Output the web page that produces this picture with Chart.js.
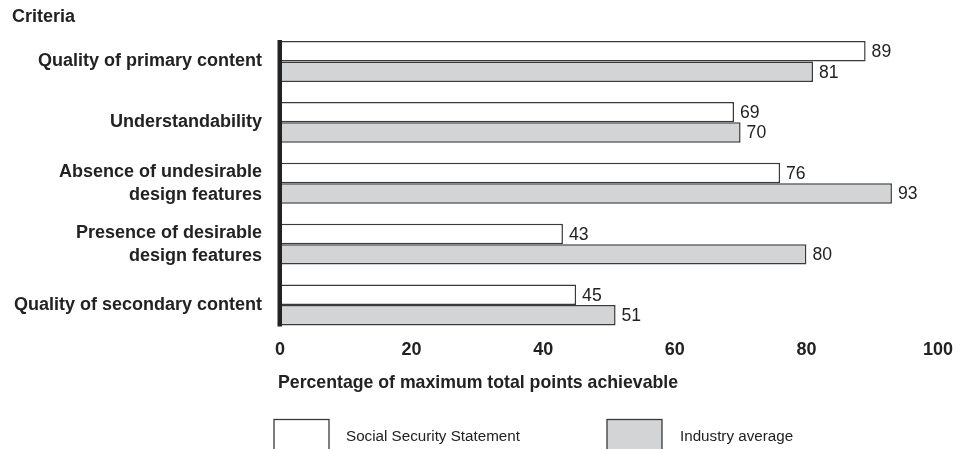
<!DOCTYPE html>
<html>
<head>
<meta charset="utf-8">
<script src="https://cdn.jsdelivr.net/npm/chart.js@4/dist/chart.umd.min.js"></script>
<style>
html,body{margin:0;padding:0;background:#fff;}
#wrap{width:966px;height:449px;position:relative;}
</style>
</head>
<body>
<div id="wrap"><canvas id="c" width="966" height="449"></canvas></div>
<script>
const categories = [
  "Quality of primary content",
  ["Understandability"],
  ["Absence of undesirable", "design features"],
  ["Presence of desirable", "design features"],
  "Quality of secondary content"
];
const seriesNames = ["Social Security Statement", "Industry average"];
const socialSecurity = [89, 69, 76, 43, 45];
const industryAverage = [81, 70, 93, 80, 51];
const xTicks = [0, 20, 40, 60, 80, 100];
const yAxisTitle = "Criteria";
const xAxisTitle = "Percentage of maximum total points achievable";

const FONT = "'Liberation Sans', Arial, Helvetica, sans-serif";
const INK = "#222";
const GREY = "#d3d4d6";
const EDGE = "#3a3a3a";

const extras = {
  id: 'extras',
  afterDatasetsDraw(chart) {
    const ctx = chart.ctx;
    const area = chart.chartArea;
    ctx.save();
    ctx.fillStyle = INK;
    ctx.font = "17.6px " + FONT;
    ctx.textAlign = "left";
    ctx.textBaseline = "middle";
    chart.data.datasets.forEach((ds, di) => {
      const meta = chart.getDatasetMeta(di);
      meta.data.forEach((bar, i) => {
        ctx.fillText(String(ds.data[i]), bar.x + 6, bar.y + 1);
      });
    });
    const first = chart.getDatasetMeta(0).data[0];
    const lastMeta = chart.getDatasetMeta(chart.data.datasets.length - 1);
    const last = lastMeta.data[lastMeta.data.length - 1];
    const top = first.y - first.height / 2 - 1;
    const bottom = last.y + last.height / 2 + 1;
    ctx.fillStyle = INK;
    ctx.fillRect(area.left - 2.5, top, 4.5, bottom - top);
    ctx.restore();
  },
  afterDraw(chart) {
    const ctx = chart.ctx;
    const area = chart.chartArea;
    ctx.save();
    ctx.fillStyle = INK;
    ctx.textBaseline = "middle";
    ctx.textAlign = "left";
    ctx.font = "bold 18px " + FONT;
    ctx.fillText(yAxisTitle, 12, 17);
    ctx.font = "bold 17.7px " + FONT;
    ctx.fillText(xAxisTitle, area.left - 2, 383);
    const boxes = [
      {x: 274, fill: "#ffffff", tx: 346},
      {x: 607, fill: GREY, tx: 680}
    ];
    ctx.font = "15.2px " + FONT;
    boxes.forEach((b, i) => {
      ctx.fillStyle = b.fill;
      ctx.fillRect(b.x, 419.5, 55, 40);
      ctx.strokeStyle = EDGE;
      ctx.lineWidth = 1.3;
      ctx.strokeRect(b.x, 419.5, 55, 40);
      ctx.fillStyle = INK;
      ctx.fillText(seriesNames[i], b.tx, 437);
    });
    ctx.restore();
  }
};

new Chart(document.getElementById('c'), {
  type: 'bar',
  data: {
    labels: categories,
    datasets: [
      {
        label: seriesNames[0],
        data: socialSecurity,
        backgroundColor: "#ffffff",
        borderColor: EDGE,
        borderWidth: 1.5,
        borderSkipped: false,
        categoryPercentage: 0.672,
        barPercentage: 1.0
      },
      {
        label: seriesNames[1],
        data: industryAverage,
        backgroundColor: GREY,
        borderColor: EDGE,
        borderWidth: 1.5,
        borderSkipped: false,
        categoryPercentage: 0.672,
        barPercentage: 1.0
      }
    ]
  },
  options: {
    indexAxis: 'y',
    responsive: false,
    devicePixelRatio: 1,
    animation: false,
    layout: { padding: { top: 31, right: 28, bottom: 0, left: 0 } },
    plugins: { legend: { display: false }, tooltip: { enabled: false } },
    scales: {
      x: {
        min: 0, max: 100,
        afterBuildTicks(scale) { scale.ticks = xTicks.map(v => ({ value: v })); },
        afterFit(scale) { scale.height = 113.5; },
        grid: { display: false, drawTicks: false },
        border: { display: false },
        ticks: {
          padding: 4,
          color: INK,
          font: { family: FONT, size: 18, weight: 'bold' }
        }
      },
      y: {
        afterFit(scale) { scale.width = 280; },
        grid: { display: false, drawTicks: false },
        border: { display: false },
        ticks: {
          padding: 18,
          color: INK,
          font: { family: FONT, size: 18, weight: 'bold', lineHeight: 1.28 }
        }
      }
    }
  },
  plugins: [extras]
});
</script>
</body>
</html>
